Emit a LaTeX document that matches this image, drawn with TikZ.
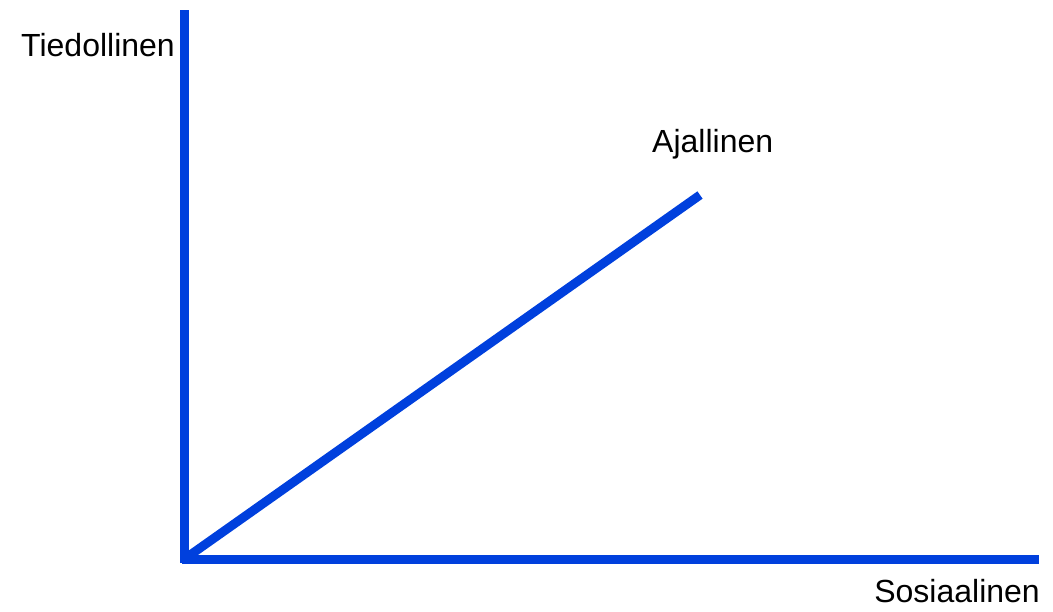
\documentclass[tikz,border=0pt]{standalone}
\usepackage{fontspec}
\setmainfont{Liberation Sans}
\usetikzlibrary{positioning}
\definecolor{axisblue}{RGB}{0,64,221}

\begin{document}
\begin{tikzpicture}[
    x=1pt, y=-1pt,
    axis/.style={line width=9pt, draw=axisblue},
    lbl/.style={font=\fontsize{32}{38}\selectfont, inner sep=0pt, anchor=base west},
]
\useasboundingbox (0,0) rectangle (1053,611);
% axes end points
\coordinate (origin) at (184.5,559);
\coordinate (ybot) at (184.5,563);
\coordinate (ytop) at (184.5,10);
\coordinate (xstart) at (182,559);
\coordinate (xend) at (1039,559);
\coordinate (dend) at (700,195);
% axes
\draw[axis] (ybot) -- (ytop);
\draw[axis] (xstart) -- (xend);
\draw[axis] (origin) -- (dend);
% labels
\node[lbl, anchor=base east] (tied) at (175,56) {Tiedollinen};
\node[lbl] (ajal) at (652,152) {Ajallinen};
\node[lbl, anchor=base east] (sosi) at (1040,602) {Sosiaalinen};
\end{tikzpicture}
\end{document}
